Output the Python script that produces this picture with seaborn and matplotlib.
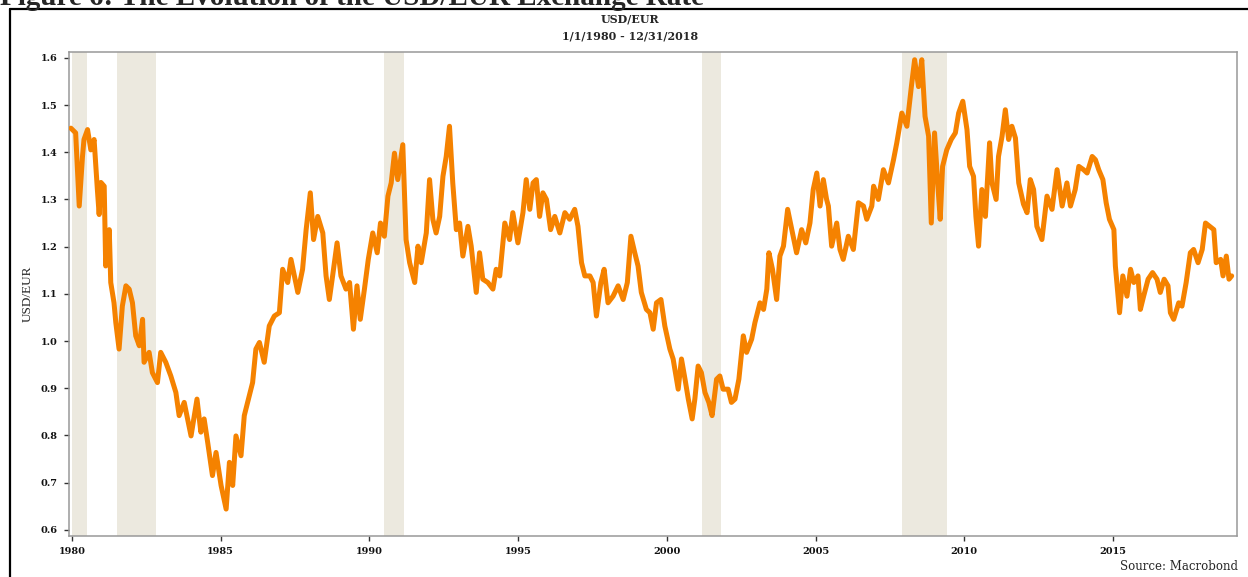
import numpy as np
import pandas as pd
import matplotlib
matplotlib.use("Agg")
import matplotlib.pyplot as plt
import seaborn as sns
from matplotlib.lines import Line2D

# USD/EUR (decimal year, rate)
years = [1979.96, 1980.12, 1980.24, 1980.35, 1980.40, 1980.52, 1980.63, 1980.74, 1980.85, 1980.91,
         1980.97, 1981.08, 1981.13, 1981.25, 1981.30, 1981.41, 1981.47, 1981.58, 1981.69, 1981.81,
         1981.92, 1982.03, 1982.14, 1982.26, 1982.37, 1982.42, 1982.59, 1982.70, 1982.87, 1982.98,
         1983.15, 1983.32, 1983.49, 1983.60, 1983.77, 1984.00, 1984.20, 1984.33, 1984.44, 1984.56,
         1984.72, 1984.84, 1985.01, 1985.18, 1985.29, 1985.40, 1985.51, 1985.68, 1985.79, 1985.96,
         1986.07, 1986.18, 1986.30, 1986.46, 1986.63, 1986.80, 1986.97, 1987.08, 1987.25, 1987.36,
         1987.59, 1987.75, 1987.87, 1988.01, 1988.12, 1988.26, 1988.43, 1988.54, 1988.65, 1988.76,
         1988.91, 1989.04, 1989.21, 1989.33, 1989.46, 1989.58, 1989.69, 1989.83, 1989.96, 1990.11,
         1990.26, 1990.37, 1990.50, 1990.62, 1990.73, 1990.84, 1990.95, 1991.12, 1991.23, 1991.35,
         1991.52, 1991.63, 1991.74, 1991.91, 1992.02, 1992.13, 1992.24, 1992.36, 1992.47, 1992.58,
         1992.69, 1992.80, 1992.92, 1993.03, 1993.14, 1993.31, 1993.42, 1993.59, 1993.70, 1993.81,
         1993.98, 1994.15, 1994.26, 1994.38, 1994.55, 1994.71, 1994.82, 1994.99, 1995.16, 1995.27,
         1995.39, 1995.50, 1995.61, 1995.72, 1995.83, 1995.95, 1996.09, 1996.23, 1996.40, 1996.57,
         1996.73, 1996.90, 1997.01, 1997.13, 1997.24, 1997.41, 1997.52, 1997.63, 1997.78, 1997.89,
         1998.02, 1998.19, 1998.36, 1998.53, 1998.67, 1998.79, 1998.92, 1999.03, 1999.14, 1999.31,
         1999.43, 1999.54, 1999.65, 1999.80, 1999.93, 2000.10, 2000.21, 2000.38, 2000.49, 2000.61,
         2000.72, 2000.85, 2000.94, 2001.05, 2001.16, 2001.28, 2001.41, 2001.52, 2001.67, 2001.78,
         2001.89, 2002.06, 2002.17, 2002.29, 2002.42, 2002.57, 2002.68, 2002.85, 2002.96, 2003.13,
         2003.25, 2003.36, 2003.43, 2003.55, 2003.69, 2003.80, 2003.92, 2004.06, 2004.20, 2004.36,
         2004.53, 2004.67, 2004.81, 2004.92, 2005.04, 2005.15, 2005.26, 2005.37, 2005.43, 2005.54,
         2005.71, 2005.82, 2005.93, 2006.10, 2006.27, 2006.44, 2006.61, 2006.72, 2006.89, 2006.95,
         2007.11, 2007.28, 2007.45, 2007.62, 2007.73, 2007.90, 2008.07, 2008.22, 2008.33, 2008.46,
         2008.57, 2008.68, 2008.80, 2008.89, 2009.00, 2009.12, 2009.19, 2009.27, 2009.41, 2009.56,
         2009.70, 2009.81, 2009.95, 2010.09, 2010.18, 2010.31, 2010.39, 2010.48, 2010.59, 2010.71,
         2010.85, 2010.93, 2011.07, 2011.15, 2011.27, 2011.38, 2011.49, 2011.60, 2011.72, 2011.83,
         2011.99, 2012.11, 2012.22, 2012.33, 2012.44, 2012.61, 2012.78, 2012.95, 2013.12, 2013.29,
         2013.45, 2013.57, 2013.73, 2013.85, 2014.01, 2014.13, 2014.30, 2014.41, 2014.52, 2014.66,
         2014.77, 2014.88, 2015.03, 2015.08, 2015.22, 2015.33, 2015.47, 2015.59, 2015.70, 2015.84,
         2015.92, 2016.03, 2016.18, 2016.33, 2016.48, 2016.59, 2016.72, 2016.85, 2016.93, 2017.04,
         2017.21, 2017.32, 2017.46, 2017.60, 2017.71, 2017.86, 2018.00, 2018.11, 2018.25, 2018.39,
         2018.47, 2018.62, 2018.70, 2018.81, 2018.90, 2018.99]
usd_eur = [1.451, 1.441, 1.286, 1.391, 1.427, 1.448, 1.405, 1.427, 1.321, 1.268,
           1.336, 1.328, 1.159, 1.236, 1.124, 1.081, 1.039, 0.983, 1.074, 1.117,
           1.110, 1.081, 1.011, 0.990, 1.046, 0.955, 0.976, 0.933, 0.912, 0.976,
           0.955, 0.926, 0.891, 0.842, 0.870, 0.799, 0.877, 0.807, 0.835, 0.785,
           0.715, 0.764, 0.694, 0.644, 0.743, 0.694, 0.799, 0.757, 0.842, 0.884,
           0.912, 0.983, 0.997, 0.955, 1.032, 1.053, 1.060, 1.152, 1.124, 1.173,
           1.103, 1.152, 1.236, 1.314, 1.215, 1.264, 1.229, 1.138, 1.088, 1.138,
           1.208, 1.138, 1.110, 1.124, 1.025, 1.117, 1.046, 1.110, 1.173, 1.229,
           1.187, 1.250, 1.222, 1.307, 1.335, 1.398, 1.342, 1.416, 1.215, 1.166,
           1.124, 1.201, 1.166, 1.229, 1.342, 1.258, 1.229, 1.264, 1.349, 1.391,
           1.455, 1.335, 1.236, 1.250, 1.180, 1.243, 1.201, 1.103, 1.187, 1.131,
           1.124, 1.110, 1.152, 1.138, 1.250, 1.215, 1.272, 1.208, 1.272, 1.342,
           1.279, 1.335, 1.342, 1.264, 1.314, 1.300, 1.236, 1.264, 1.229, 1.272,
           1.258, 1.279, 1.243, 1.166, 1.138, 1.138, 1.124, 1.053, 1.124, 1.152,
           1.081, 1.095, 1.117, 1.088, 1.124, 1.222, 1.187, 1.159, 1.103, 1.067,
           1.060, 1.025, 1.081, 1.088, 1.032, 0.983, 0.962, 0.898, 0.962, 0.919,
           0.877, 0.835, 0.877, 0.947, 0.933, 0.891, 0.870, 0.842, 0.919, 0.926,
           0.898, 0.898, 0.870, 0.877, 0.919, 1.011, 0.976, 1.004, 1.039, 1.081,
           1.067, 1.110, 1.187, 1.152, 1.088, 1.180, 1.201, 1.279, 1.236, 1.187,
           1.236, 1.208, 1.250, 1.321, 1.356, 1.286, 1.342, 1.300, 1.286, 1.201,
           1.250, 1.194, 1.173, 1.222, 1.194, 1.293, 1.286, 1.258, 1.286, 1.328,
           1.300, 1.363, 1.335, 1.384, 1.420, 1.483, 1.455, 1.539, 1.596, 1.539,
           1.596, 1.476, 1.434, 1.250, 1.441, 1.321, 1.258, 1.370, 1.405, 1.427,
           1.441, 1.483, 1.508, 1.448, 1.370, 1.349, 1.264, 1.201, 1.321, 1.264,
           1.420, 1.335, 1.300, 1.391, 1.434, 1.490, 1.427, 1.455, 1.430, 1.335,
           1.290, 1.272, 1.342, 1.321, 1.243, 1.215, 1.307, 1.279, 1.363, 1.286,
           1.335, 1.286, 1.321, 1.370, 1.363, 1.356, 1.391, 1.384, 1.363, 1.342,
           1.293, 1.258, 1.236, 1.159, 1.060, 1.138, 1.095, 1.152, 1.124, 1.138,
           1.067, 1.095, 1.131, 1.145, 1.131, 1.103, 1.131, 1.117, 1.060, 1.046,
           1.081, 1.074, 1.124, 1.187, 1.194, 1.166, 1.194, 1.250, 1.243, 1.236,
           1.166, 1.173, 1.138, 1.180, 1.131, 1.138]

# NBER recessions (start, end) in decimal years
rec_start = [1980.00, 1981.50, 1990.50, 2001.17, 2007.92]
rec_end = [1980.50, 1982.83, 1991.17, 2001.83, 2009.42]

year_ticks = [1980, 1985, 1990, 1995, 2000, 2005, 2010, 2015]
rate_ticks = [0.6, 0.7, 0.8, 0.9, 1.0, 1.1, 1.2, 1.3, 1.4, 1.5, 1.6]

df = pd.DataFrame({"year": years, "rate": usd_eur})

sns.set_style("white")
plt.rcParams['font.family'] = ['DejaVu Serif']

fig = plt.figure(figsize=(12.48, 5.77), dpi=100)
ax = fig.add_axes([0.0549, 0.0711, 0.9363, 0.8393])

for s, e in zip(rec_start, rec_end):
    ax.axvspan(s, e, color="#ECE9DF", lw=0, zorder=0)

sns.lineplot(data=df, x="year", y="rate", ax=ax, color="#F58200", lw=3.6, zorder=3)

ax.set_xlim(1979.88, 2019.17)
ax.set_ylim(0.587, 1.613)
ax.set_xticks(year_ticks)
ax.set_xticklabels([str(y) for y in year_ticks], fontweight="bold", fontsize=7)
ax.set_yticks(rate_ticks)
ax.set_yticklabels([f"{v:.1f}" for v in rate_ticks], fontweight="bold", fontsize=7)
ax.tick_params(axis="both", which="major", direction="out", length=3.6, width=1,
               color="#333333", labelcolor="#111111", left=True, bottom=True)
ax.tick_params(axis="y", pad=4)
ax.tick_params(axis="x", pad=4)
ax.set_xlabel("")
ax.set_ylabel("USD/EUR", family="Liberation Serif", fontsize=9.5, labelpad=5)

for side in ["left", "bottom", "top", "right"]:
    ax.spines[side].set_visible(True)
    ax.spines[side].set_color("#999999")
    ax.spines[side].set_linewidth(1.1)

# titles and source
fig.text(630 / 1248, 1 - 19 / 577, "USD/EUR", ha="center", va="center",
         fontweight="bold", fontsize=8)
fig.text(630 / 1248, 1 - 36 / 577, "1/1/1980 - 12/31/2018", ha="center", va="center",
         fontweight="bold", fontsize=8)
fig.text(1238 / 1248, 1 - 566 / 577, "Source: Macrobond", ha="right", va="center",
         fontsize=8.5)

# cropped document heading and page frame
fig.text(0.0, 1 - 5 / 577, "Figure 6: The Evolution of the USD/EUR Exchange Rate",
         ha="left", va="baseline", family="Liberation Serif", fontweight="bold", fontsize=21)
fig.add_artist(Line2D([9.5 / 1248, 9.5 / 1248], [0, 1 - 9 / 577], color="black", lw=1.6,
                      transform=fig.transFigure))
fig.add_artist(Line2D([9.5 / 1248, 1], [1 - 9 / 577, 1 - 9 / 577], color="black", lw=1.6,
                      transform=fig.transFigure))

fig.savefig("out.png", dpi=100, facecolor="white")
